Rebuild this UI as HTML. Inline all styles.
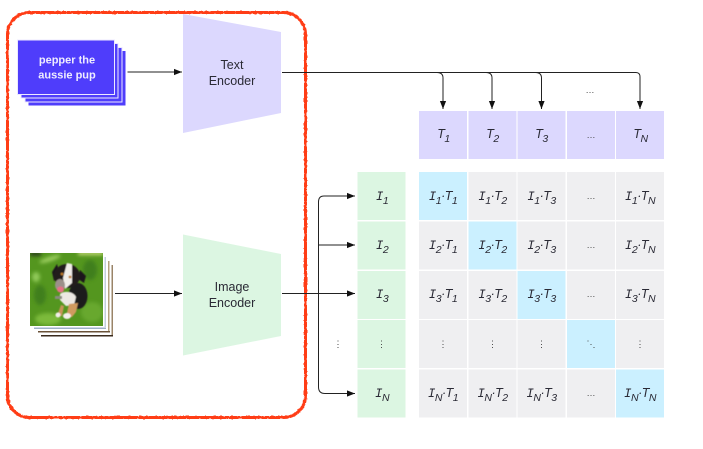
<!DOCTYPE html>
<html><head><meta charset="utf-8">
<style>
html,body{margin:0;padding:0;background:#fff}
svg{display:block}
text{font-family:"Liberation Sans",sans-serif;fill:#2a2a35}
.l{font-size:12.500px;text-anchor:middle}
.m{font-style:italic;font-size:12.500px;text-anchor:middle;letter-spacing:-.5px}
.m .i{font-family:"Liberation Mono",monospace;font-size:12.500px}
.m .s{font-size:10.500px}
.d{font-size:9px;text-anchor:middle;fill:#444}
.a{fill:none;stroke:#222;stroke-width:1}
</style></head><body>
<svg width="703" height="449" viewBox="0 0 703 449" xmlns="http://www.w3.org/2000/svg">
<defs>
<marker id="h" markerUnits="userSpaceOnUse" markerWidth="9" markerHeight="8" refX="8" refY="4" orient="auto"><path d="M0 .9L8 4L0 7.100Z" fill="#111"/></marker>
<filter id="b" x="-20%" y="-20%" width="140%" height="140%"><feGaussianBlur stdDeviation=".5"/></filter>
<filter id="b2" x="-30%" y="-30%" width="160%" height="160%"><feGaussianBlur stdDeviation="1.800"/></filter>
<filter id="r" x="-3%" y="-3%" width="106%" height="106%">
<feTurbulence type="fractalNoise" baseFrequency=".35" numOctaves="2" seed="4" result="n"/>
<feDisplacementMap in="SourceGraphic" in2="n" scale="1.800" xChannelSelector="R" yChannelSelector="G"/>
<feGaussianBlur stdDeviation=".35"/>
</filter>
<clipPath id="c"><rect x="30" y="253" width="73" height="73"/></clipPath>
</defs>

<!-- text stack -->
<rect x="28.500" y="51" width="97" height="54.500" fill="#4f3dfb"/>
<rect x="25" y="47.500" width="97" height="54.500" fill="#4f3dfb" stroke="#ece9ff" stroke-width="1"/>
<rect x="21" y="43.500" width="97" height="54.500" fill="#4f3dfb" stroke="#ece9ff" stroke-width="1"/>
<rect x="17.500" y="40" width="97" height="54.500" fill="#4f3dfb" stroke="#ece9ff" stroke-width="1"/>
<text x="67" y="63.500" text-anchor="middle" font-size="11" font-weight="bold" style="fill:#efedff">pepper the</text>
<text x="67" y="78.500" text-anchor="middle" font-size="11" font-weight="bold" style="fill:#efedff">aussie pup</text>

<!-- encoders -->
<polygon points="183,14 281,32 281,113 183,133" fill="#dcd8fe"/>
<text class="l" x="232" y="69">Text</text>
<text class="l" x="232" y="85">Encoder</text>
<polygon points="183,234.500 281,254 281,336 183,355.500" fill="#dcf6e2"/>
<text class="l" x="232" y="291">Image</text>
<text class="l" x="232" y="307">Encoder</text>

<!-- photo stack -->
<rect x="41" y="264" width="73" height="73" fill="#fff"/>
<rect x="41" y="335" width="72" height="1.500" fill="#3a2a1c"/>
<rect x="111.500" y="265" width="1.500" height="70" fill="#9a8468"/>
<rect x="37" y="260" width="73" height="73" fill="#fff"/>
<rect x="38" y="331" width="72" height="1.500" fill="#6a5238"/>
<rect x="108" y="261" width="1.500" height="70" fill="#b4a17e"/>
<rect x="33.500" y="256.500" width="73" height="73" fill="#fff"/>
<rect x="34" y="327.500" width="72" height="1.500" fill="#9fb0c8"/>
<rect x="104.500" y="257" width="1.500" height="70" fill="#c3d0dd"/>
<rect x="29.500" y="252.500" width="74" height="74" fill="#fff"/>
<g clip-path="url(#c)">
<rect x="30" y="253" width="73" height="73" fill="#54961f"/>
<g filter="url(#b2)">
<ellipse cx="50" cy="259" rx="11" ry="2.500" fill="#98cc5c" transform="rotate(-18 50 259)"/>
<ellipse cx="36" cy="277" rx="4" ry="5" fill="#8fc958"/>
<ellipse cx="48" cy="319" rx="13" ry="6" fill="#7cba3a"/>
<ellipse cx="92" cy="312" rx="11" ry="10" fill="#67a82e"/>
<ellipse cx="90" cy="270" rx="7" ry="10" fill="#3f7f1d"/>
<ellipse cx="40" cy="295" rx="6" ry="10" fill="#3f7f1d"/>
<rect x="30" y="252" width="11" height="4" fill="#2c3d1a"/>
<rect x="78" y="252" width="25" height="3" fill="#cfe07f"/>
</g>
<g filter="url(#b)">
<ellipse cx="78" cy="296" rx="9.500" ry="13" fill="#1f1b1d"/>
<path d="M80 270L86 276L84 283L78 279Z" fill="#1d191b"/>
<path d="M57 264L52 272L54 281L60 275Z" fill="#1d191b"/>
<ellipse cx="67" cy="276" rx="13" ry="12" fill="#211c1e"/>
<path d="M67 263L72 264L72 283L65 289L63 278Z" fill="#f2eeea"/>
<ellipse cx="60" cy="285" rx="5" ry="6" fill="#9c908a"/>
<ellipse cx="60.500" cy="289.500" rx="3.500" ry="3" fill="#e56f86"/>
<circle cx="62" cy="274" r="1.400" fill="#c07a25"/>
<circle cx="70" cy="277" r="1.400" fill="#c07a25"/>
<path d="M60 294C65 290 74 292 76 297L74 305L66 306L60 300Z" fill="#ece8e3"/>
<rect x="55" y="296" width="7" height="3" fill="#8a8a80"/>
<path d="M61 305L64 306L62 316L57 316Z" fill="#c79459"/>
<ellipse cx="58" cy="315" rx="2.500" ry="2.500" fill="#f2eeea"/>
<path d="M69 304L78 303L76 312L72 317L66 317Z" fill="#d09a5e"/>
<ellipse cx="67" cy="316" rx="4" ry="3" fill="#f4f0ec"/>
</g>
</g>

<!-- red highlight -->
<rect x="7.500" y="12.500" width="298" height="405" rx="22" ry="22" fill="none" stroke="#ff3c17" stroke-width="3" filter="url(#r)"/>

<!-- connectors -->
<path class="a" d="M127.500 72H182" marker-end="url(#h)"/>
<path class="a" d="M282 72.500H636Q640 72.500 640 77V109" marker-end="url(#h)"/>
<path class="a" d="M437 72.500Q443 72.500 443 78V109" marker-end="url(#h)"/>
<path class="a" d="M486 72.500Q492 72.500 492 78V109" marker-end="url(#h)"/>
<path class="a" d="M535.500 72.500Q541.500 72.500 541.500 78V109" marker-end="url(#h)"/>
<path class="a" d="M115 293.500H182" marker-end="url(#h)"/>
<path class="a" d="M282 293.500H355" marker-end="url(#h)"/>
<path class="a" d="M330 196H324Q318.500 196 318.500 202V387Q318.500 393.500 325 393.500H330" />
<path class="a" d="M330 196H355" marker-end="url(#h)"/>
<path class="a" d="M330 393.500H355" marker-end="url(#h)"/>
<path class="a" d="M318.500 245H355" marker-end="url(#h)"/>
<text class="d" x="590" y="93">…</text>
<text class="d" x="338" y="347">⋮</text>

<!-- T header -->
<g fill="#dcd8fe">
<rect x="419" y="111" width="48" height="48"/><rect x="468.500" y="111" width="48" height="48"/><rect x="517.500" y="111" width="48" height="48"/><rect x="567" y="111" width="48" height="48"/><rect x="616" y="111" width="48" height="48"/>
</g>
<!-- I col -->
<g fill="#dcf6e2">
<rect x="357.500" y="172" width="48" height="48"/><rect x="357.500" y="221.500" width="48" height="48"/><rect x="357.500" y="271" width="48" height="48"/><rect x="357.500" y="320" width="48" height="48"/><rect x="357.500" y="369.500" width="48" height="48"/>
</g>
<!-- grid -->
<g fill="#efeff1">
<rect x="419" y="172" width="48" height="48" fill="#cbf0ff"/><rect x="468.500" y="172" width="48" height="48"/><rect x="517.500" y="172" width="48" height="48"/><rect x="567" y="172" width="48" height="48"/><rect x="616" y="172" width="48" height="48"/>
<rect x="419" y="221.500" width="48" height="48"/><rect x="468.500" y="221.500" width="48" height="48" fill="#cbf0ff"/><rect x="517.500" y="221.500" width="48" height="48"/><rect x="567" y="221.500" width="48" height="48"/><rect x="616" y="221.500" width="48" height="48"/>
<rect x="419" y="271" width="48" height="48"/><rect x="468.500" y="271" width="48" height="48"/><rect x="517.500" y="271" width="48" height="48" fill="#cbf0ff"/><rect x="567" y="271" width="48" height="48"/><rect x="616" y="271" width="48" height="48"/>
<rect x="419" y="320" width="48" height="48"/><rect x="468.500" y="320" width="48" height="48"/><rect x="517.500" y="320" width="48" height="48"/><rect x="567" y="320" width="48" height="48" fill="#cbf0ff"/><rect x="616" y="320" width="48" height="48"/>
<rect x="419" y="369.500" width="48" height="48"/><rect x="468.500" y="369.500" width="48" height="48"/><rect x="517.500" y="369.500" width="48" height="48"/><rect x="567" y="369.500" width="48" height="48"/><rect x="616" y="369.500" width="48" height="48" fill="#cbf0ff"/>
</g>

<!-- T labels -->
<text class="m" x="443.500" y="138">T<tspan class="s" dy="4">1</tspan></text>
<text class="m" x="492.500" y="138">T<tspan class="s" dy="4">2</tspan></text>
<text class="m" x="541.500" y="138">T<tspan class="s" dy="4">3</tspan></text>
<text class="d" x="591" y="138">…</text>
<text class="m" x="640.500" y="138">T<tspan class="s" dy="4">N</tspan></text>

<!-- I labels -->
<text class="m" x="382" y="200"><tspan class="i">I</tspan><tspan class="s" dy="4">1</tspan></text>
<text class="m" x="382" y="249"><tspan class="i">I</tspan><tspan class="s" dy="4">2</tspan></text>
<text class="m" x="382" y="298"><tspan class="i">I</tspan><tspan class="s" dy="4">3</tspan></text>
<text class="d" x="381.500" y="347">⋮</text>
<text class="m" x="382" y="397"><tspan class="i">I</tspan><tspan class="s" dy="4">N</tspan></text>

<!-- Row 1 -->
<text class="m" x="443" y="200"><tspan class="i">I</tspan><tspan class="s" dy="4">1</tspan><tspan dy="-4">·T</tspan><tspan class="s" dy="4">1</tspan></text>
<text class="m" x="492.500" y="200"><tspan class="i">I</tspan><tspan class="s" dy="4">1</tspan><tspan dy="-4">·T</tspan><tspan class="s" dy="4">2</tspan></text>
<text class="m" x="541.500" y="200"><tspan class="i">I</tspan><tspan class="s" dy="4">1</tspan><tspan dy="-4">·T</tspan><tspan class="s" dy="4">3</tspan></text>
<text class="d" x="591" y="199">…</text>
<text class="m" x="640" y="200"><tspan class="i">I</tspan><tspan class="s" dy="4">1</tspan><tspan dy="-4">·T</tspan><tspan class="s" dy="4">N</tspan></text>
<!-- Row 2 -->
<text class="m" x="443" y="249"><tspan class="i">I</tspan><tspan class="s" dy="4">2</tspan><tspan dy="-4">·T</tspan><tspan class="s" dy="4">1</tspan></text>
<text class="m" x="492.500" y="249"><tspan class="i">I</tspan><tspan class="s" dy="4">2</tspan><tspan dy="-4">·T</tspan><tspan class="s" dy="4">2</tspan></text>
<text class="m" x="541.500" y="249"><tspan class="i">I</tspan><tspan class="s" dy="4">2</tspan><tspan dy="-4">·T</tspan><tspan class="s" dy="4">3</tspan></text>
<text class="d" x="591" y="248">…</text>
<text class="m" x="640" y="249"><tspan class="i">I</tspan><tspan class="s" dy="4">2</tspan><tspan dy="-4">·T</tspan><tspan class="s" dy="4">N</tspan></text>
<!-- Row 3 -->
<text class="m" x="443" y="298"><tspan class="i">I</tspan><tspan class="s" dy="4">3</tspan><tspan dy="-4">·T</tspan><tspan class="s" dy="4">1</tspan></text>
<text class="m" x="492.500" y="298"><tspan class="i">I</tspan><tspan class="s" dy="4">3</tspan><tspan dy="-4">·T</tspan><tspan class="s" dy="4">2</tspan></text>
<text class="m" x="541.500" y="298"><tspan class="i">I</tspan><tspan class="s" dy="4">3</tspan><tspan dy="-4">·T</tspan><tspan class="s" dy="4">3</tspan></text>
<text class="d" x="591" y="297">…</text>
<text class="m" x="640" y="298"><tspan class="i">I</tspan><tspan class="s" dy="4">3</tspan><tspan dy="-4">·T</tspan><tspan class="s" dy="4">N</tspan></text>
<!-- Row 4 -->
<text class="d" x="443" y="347">⋮</text>
<text class="d" x="492.500" y="347">⋮</text>
<text class="d" x="541.500" y="347">⋮</text>
<text class="d" x="591" y="347">⋱</text>
<text class="d" x="640" y="347">⋮</text>
<!-- Row 5 -->
<text class="m" x="443" y="397"><tspan class="i">I</tspan><tspan class="s" dy="4">N</tspan><tspan dy="-4">·T</tspan><tspan class="s" dy="4">1</tspan></text>
<text class="m" x="492.500" y="397"><tspan class="i">I</tspan><tspan class="s" dy="4">N</tspan><tspan dy="-4">·T</tspan><tspan class="s" dy="4">2</tspan></text>
<text class="m" x="541.500" y="397"><tspan class="i">I</tspan><tspan class="s" dy="4">N</tspan><tspan dy="-4">·T</tspan><tspan class="s" dy="4">3</tspan></text>
<text class="d" x="591" y="396">…</text>
<text class="m" x="640" y="397"><tspan class="i">I</tspan><tspan class="s" dy="4">N</tspan><tspan dy="-4">·T</tspan><tspan class="s" dy="4">N</tspan></text>
</svg>
</body></html>
